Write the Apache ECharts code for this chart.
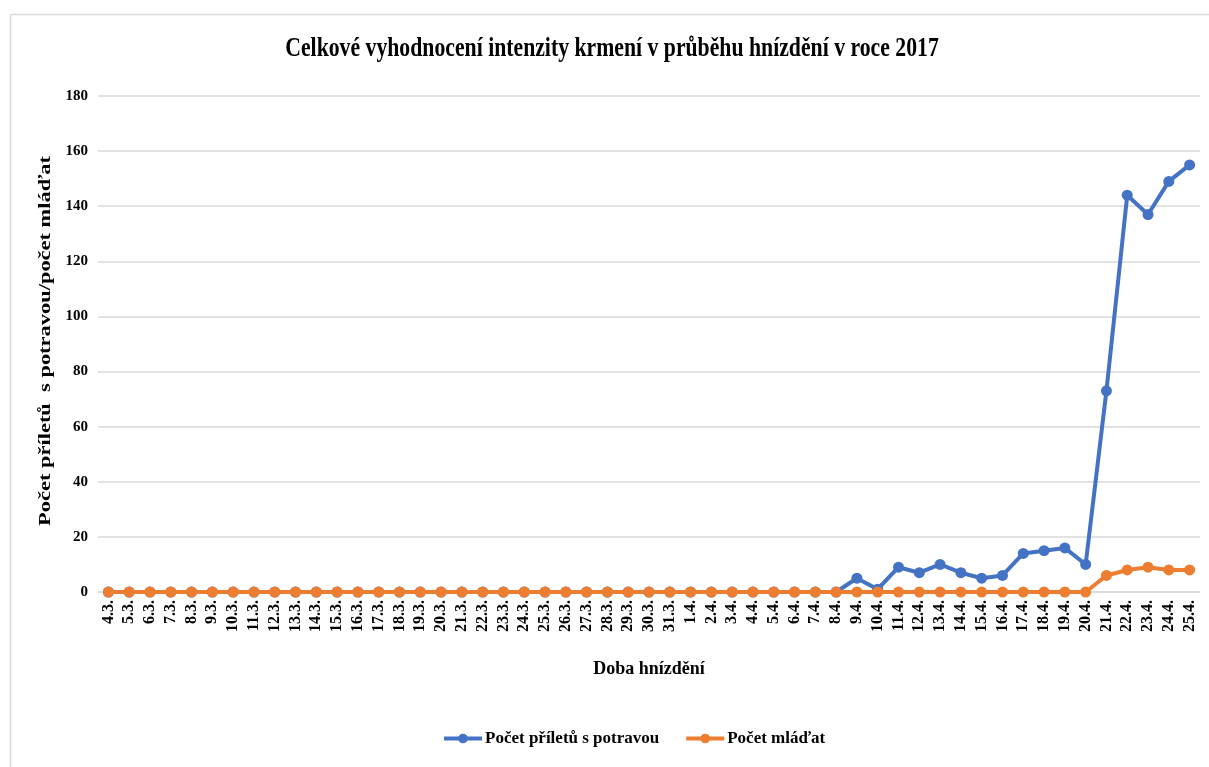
<!DOCTYPE html>
<html><head><meta charset="utf-8">
<script src="https://cdn.jsdelivr.net/npm/echarts@6/dist/echarts.min.js"></script>
<style>html,body{margin:0;padding:0;background:#fff}#c{width:1209px;height:767px}</style>
</head><body><div id="c"></div>
<script>
const categories = ["4.3.","5.3.","6.3.","7.3.","8.3.","9.3.","10.3.","11.3.","12.3.","13.3.","14.3.","15.3.","16.3.","17.3.","18.3.","19.3.","20.3.","21.3.","22.3.","23.3.","24.3.","25.3.","26.3.","27.3.","28.3.","29.3.","30.3.","31.3.","1.4.","2.4.","3.4.","4.4.","5.4.","6.4.","7.4.","8.4.","9.4.","10.4.","11.4.","12.4.","13.4.","14.4.","15.4.","16.4.","17.4.","18.4.","19.4.","20.4.","21.4.","22.4.","23.4.","24.4.","25.4."];
const prilety = [0,0,0,0,0,0,0,0,0,0,0,0,0,0,0,0,0,0,0,0,0,0,0,0,0,0,0,0,0,0,0,0,0,0,0,0,5,1,9,7,10,7,5,6,14,15,16,10,73,144,137,149,155];
const mladata = [0,0,0,0,0,0,0,0,0,0,0,0,0,0,0,0,0,0,0,0,0,0,0,0,0,0,0,0,0,0,0,0,0,0,0,0,0,0,0,0,0,0,0,0,0,0,0,0,6,8,9,8,8];
const seriesNames = ["Počet příletů s potravou","Počet mláďat"];
const titleText = 'Celkové vyhodnocení intenzity krmení v průběhu hnízdění v roce 2017';
const yName = 'Počet příletů  s potravou/počet mláďat';
const xName = 'Doba hnízdění';
const yTicks = {min:0,max:180,interval:20};

const FONT = '"Liberation Serif","Times New Roman",serif';
const chart = echarts.init(document.getElementById('c'));
chart.setOption({
  backgroundColor:'#fff',
  animation:false,
  textStyle:{fontFamily:FONT},
  graphic:[
    {type:'rect',shape:{x:10.5,y:14.5,width:1300,height:900},style:{fill:'none',stroke:'#d9d9d9',lineWidth:1.5},z:-1},
    {type:'text',x:612,y:49,scaleX:0.805,
     style:{text:titleText,font:'bold 27px "Liberation Serif", serif',fill:'#000',align:'center',verticalAlign:'middle',textAlign:'center',textVerticalAlign:'middle'}},
    {type:'text',x:46,y:341,rotation:Math.PI/2,scaleX:1.32,
     style:{text:yName,font:'bold 17px "Liberation Serif", serif',fill:'#000',align:'center',verticalAlign:'middle',textAlign:'center',textVerticalAlign:'middle'}}
  ],
  legend:{bottom:15,left:437,itemGap:25,itemWidth:38,itemHeight:12,
    lineStyle:{width:4},
    textStyle:{fontFamily:FONT,fontWeight:'bold',fontSize:17,color:'#000',padding:[0,0,0,-2]},
    data:seriesNames},
  grid:{left:98,right:9,top:96,bottom:175,containLabel:false},
  xAxis:{type:'category',data:categories,boundaryGap:true,
    axisLine:{show:true,lineStyle:{color:'#d9d9d9',width:1.5}},axisTick:{show:false},
    axisLabel:{rotate:90,interval:0,fontFamily:FONT,fontWeight:'bold',fontSize:16,color:'#000',margin:8},
    name:xName,nameLocation:'middle',nameGap:68,
    nameTextStyle:{fontFamily:FONT,fontWeight:'bold',fontSize:18,color:'#000'}},
  yAxis:{type:'value',min:yTicks.min,max:yTicks.max,interval:yTicks.interval,
    axisLine:{show:false},axisTick:{show:false},
    splitLine:{lineStyle:{color:'#d9d9d9',width:1.5}},
    axisLabel:{fontFamily:FONT,fontWeight:'bold',fontSize:15,color:'#000',margin:10}},
  series:[
    {name:seriesNames[0],type:'line',data:prilety,symbol:'circle',symbolSize:11,
     lineStyle:{width:4,color:'#4472C4'},itemStyle:{color:'#4472C4'},z:2},
    {name:seriesNames[1],type:'line',data:mladata,symbol:'circle',symbolSize:11,
     lineStyle:{width:4,color:'#ED7D31'},itemStyle:{color:'#ED7D31'},z:3}
  ]
});
</script></body></html>
